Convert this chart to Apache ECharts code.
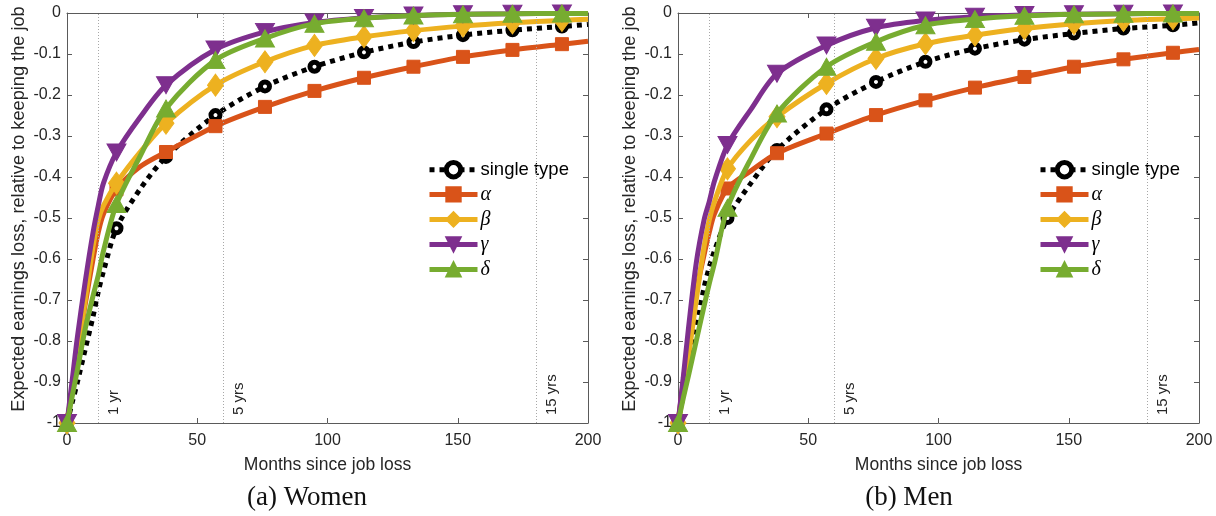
<!DOCTYPE html>
<html>
<head>
<meta charset="utf-8">
<script src="https://cdn.jsdelivr.net/npm/echarts@6/dist/echarts.min.js"></script>
<style>
  html, body { margin: 0; padding: 0; background: #fff; }
  #chart { width: 1216px; height: 516px; }
</style>
</head>
<body>
<div id="chart"></div>
<script>
// Months since job loss at which each curve is sampled
const MONTHS = [0, 2, 4, 7, 10, 12, 14, 19, 28, 38, 57, 76, 95, 114, 133, 152, 171, 190, 200];
// Months that carry a marker
const MARKER_MONTHS = [0, 19, 38, 57, 76, 95, 114, 133, 152, 171, 190];

// Women: expected earnings loss relative to keeping the job
const WOMEN_SINGLE = [-1, -0.95, -0.9, -0.82, -0.74, -0.68, -0.63, -0.525, -0.43, -0.351, -0.249, -0.179, -0.131, -0.096, -0.071, -0.054, -0.042, -0.033, -0.028];
const WOMEN_ALPHA  = [-1, -0.915, -0.83, -0.71, -0.6, -0.535, -0.49, -0.43, -0.375, -0.339, -0.276, -0.229, -0.19, -0.158, -0.131, -0.107, -0.09, -0.076, -0.069];
const WOMEN_BETA   = [-1, -0.925, -0.835, -0.7, -0.57, -0.505, -0.47, -0.415, -0.34, -0.269, -0.176, -0.119, -0.079, -0.058, -0.043, -0.032, -0.024, -0.018, -0.015];
const WOMEN_GAMMA  = [-1, -0.895, -0.79, -0.655, -0.535, -0.47, -0.415, -0.34, -0.255, -0.176, -0.089, -0.046, -0.023, -0.012, -0.006, -0.003, -0.002, -0.001, -0.001];
const WOMEN_DELTA  = [-1, -0.935, -0.87, -0.77, -0.69, -0.64, -0.58, -0.466, -0.35, -0.233, -0.115, -0.062, -0.026, -0.013, -0.006, -0.003, -0.002, -0.001, -0.001];

// Men
const MEN_SINGLE = [-1, -0.93, -0.865, -0.77, -0.67, -0.62, -0.58, -0.5, -0.415, -0.334, -0.235, -0.168, -0.119, -0.087, -0.065, -0.05, -0.038, -0.03, -0.024];
const MEN_ALPHA  = [-1, -0.9, -0.8, -0.68, -0.59, -0.535, -0.49, -0.428, -0.385, -0.342, -0.294, -0.249, -0.213, -0.182, -0.156, -0.131, -0.113, -0.097, -0.089];
const MEN_BETA   = [-1, -0.93, -0.84, -0.7, -0.57, -0.505, -0.46, -0.38, -0.31, -0.253, -0.172, -0.111, -0.075, -0.054, -0.038, -0.026, -0.018, -0.014, -0.012];
const MEN_GAMMA  = [-1, -0.89, -0.77, -0.61, -0.505, -0.46, -0.41, -0.322, -0.235, -0.148, -0.079, -0.036, -0.018, -0.009, -0.005, -0.003, -0.002, -0.001, -0.001];
const MEN_DELTA  = [-1, -0.94, -0.885, -0.8, -0.715, -0.66, -0.61, -0.475, -0.355, -0.245, -0.131, -0.07, -0.03, -0.015, -0.007, -0.003, -0.002, -0.001, -0.001];

const SERIES_NAMES = ['single type', 'α', 'β', 'γ', 'δ'];
const YEAR_MONTHS = [12, 60, 180];
const YEAR_LABELS = ['1 yr', '5 yrs', '15 yrs'];
const CAPTIONS = ['(a) Women', '(b) Men'];
const X_TITLE = 'Months since job loss';
const Y_TITLE = 'Expected earnings loss, relative to keeping the job';

const TEXT = '#262626';
const AXIS = '#5a5a5a';
const SANS = '"Liberation Sans", Arial, Helvetica, sans-serif';
const SERIF = '"Liberation Serif", "DejaVu Serif", serif';

const STYLES = [
  { color: '#000000', symbol: 'circle', size: 9, dash: [5, 5], width: 5, fill: '#ffffff', border: 5 },
  { color: '#D95319', symbol: 'rect', size: [13, 13], dash: 'solid', width: 5 },
  { color: '#EDB120', symbol: 'diamond', size: [16, 22], dash: 'solid', width: 5 },
  { color: '#7E2F8E', symbol: 'triangle', size: [19, 17], rotate: 180, dash: 'solid', width: 5 },
  { color: '#77AC30', symbol: 'triangle', size: [19, 17], dash: 'solid', width: 5 }
];

const PANELS = [
  { values: [WOMEN_SINGLE, WOMEN_ALPHA, WOMEN_BETA, WOMEN_GAMMA, WOMEN_DELTA], left: 67, legendLeft: 427, captionX: 307, yTitleX: 19 },
  { values: [MEN_SINGLE, MEN_ALPHA, MEN_BETA, MEN_GAMMA, MEN_DELTA], left: 678, legendLeft: 1038, captionX: 909, yTitleX: 630 }
];
const PLOT_W = 521, PLOT_TOP = 13, PLOT_H = 410;

function pointData(vals) {
  return MONTHS.map((m, i) => MARKER_MONTHS.indexOf(m) >= 0
    ? [m, vals[i]]
    : { value: [m, vals[i]], symbol: 'none' });
}

const grid = [], xAxis = [], yAxis = [], series = [], legend = [], graphic = [];

PANELS.forEach((p, g) => {
  grid.push({ left: p.left, top: PLOT_TOP, width: PLOT_W, height: PLOT_H });

  const tickCommon = { show: true, inside: true, length: 5, lineStyle: { color: AXIS, width: 1 } };
  const lineCommon = { show: true, onZero: false, lineStyle: { color: AXIS, width: 1 } };
  xAxis.push({
    type: 'value', gridIndex: g, min: 0, max: 200, interval: 50, position: 'bottom',
    name: X_TITLE, nameLocation: 'middle', nameGap: 33,
    nameTextStyle: { fontFamily: SANS, fontSize: 17.5, color: TEXT },
    axisLine: lineCommon, axisTick: tickCommon, splitLine: { show: false },
    axisLabel: { fontFamily: SANS, fontSize: 16, color: TEXT, margin: 10 }
  });
  xAxis.push({
    type: 'value', gridIndex: g, min: 0, max: 200, interval: 50, position: 'top',
    axisLine: lineCommon, axisTick: tickCommon, splitLine: { show: false }, axisLabel: { show: false }
  });
  yAxis.push({
    type: 'value', gridIndex: g, min: -1, max: 0, interval: 0.1, position: 'left',
    axisLine: lineCommon, axisTick: tickCommon, splitLine: { show: false },
    axisLabel: { fontFamily: SANS, fontSize: 16, color: TEXT, margin: 6 }
  });
  yAxis.push({
    type: 'value', gridIndex: g, min: -1, max: 0, interval: 0.1, position: 'right',
    axisLine: lineCommon, axisTick: tickCommon, splitLine: { show: false }, axisLabel: { show: false }
  });

  // reference lines at 1, 5 and 15 years
  series.push({
    type: 'line', xAxisIndex: 2 * g, yAxisIndex: 2 * g, data: [], silent: true, z: 1,
    markLine: {
      silent: true, symbol: 'none', animation: false,
      lineStyle: { color: '#a8a8a8', width: 1, type: [1, 2] },
      label: {
        show: true, position: 'insideStartBottom', distance: [8, 8],
        fontFamily: SANS, fontSize: 15, color: TEXT
      },
      data: YEAR_MONTHS.map((m, i) => [
        { coord: [m, -1], label: { formatter: YEAR_LABELS[i] } },
        { coord: [m, 0] }
      ])
    }
  });

  p.values.forEach((vals, k) => {
    const s = STYLES[k];
    series.push({
      name: SERIES_NAMES[k], type: 'line',
      xAxisIndex: 2 * g, yAxisIndex: 2 * g,
      data: pointData(vals),
      smooth: 0.3,
      clip: false, z: 2 + k,
      symbol: s.symbol, symbolSize: s.size, symbolRotate: s.rotate || 0,
      showSymbol: true, showAllSymbol: true,
      lineStyle: { color: s.color, width: s.width, type: s.dash, cap: 'butt' },
      itemStyle: s.fill
        ? { color: s.fill, borderColor: s.color, borderWidth: s.border }
        : { color: s.color, borderColor: s.color, borderWidth: 1 },
      emphasis: { disabled: true }
    });
  });

  legend.push({
    orient: 'vertical', left: p.legendLeft, top: 160, padding: 0,
    itemWidth: 48, itemHeight: 18, itemGap: 5,
    selectedMode: false,
    lineStyle: { width: 5 },
    data: SERIES_NAMES.map((n, k) => k === 0
      ? { name: n, itemStyle: { borderWidth: 5, color: '#fff', borderColor: '#000' } }
      : { name: n }),
    formatter: n => n === SERIES_NAMES[0] ? '{s|' + n + '}' : '{g|' + n + '}',
    textStyle: {
      color: '#000', padding: [0, 0, 0, -2],
      rich: {
        s: { fontFamily: SANS, fontSize: 18.5, color: '#000' },
        g: { fontFamily: SERIF, fontStyle: 'italic', fontSize: 20, color: '#000' }
      }
    }
  });

  graphic.push({
    type: 'text', x: p.yTitleX, y: 209, rotation: Math.PI / 2,
    style: { text: Y_TITLE, font: '18.2px ' + SANS, fill: TEXT, textAlign: 'center', textVerticalAlign: 'middle' }
  });
  graphic.push({
    type: 'text', x: p.captionX, y: 484,
    style: { text: CAPTIONS[g], font: '27px ' + SERIF, fill: '#111', textAlign: 'center' }
  });
});

const chart = echarts.init(document.getElementById('chart'), null, { renderer: 'canvas' });
chart.setOption({
  animation: false,
  backgroundColor: '#ffffff',
  grid, xAxis, yAxis, series, legend, graphic
});
</script>
</body>
</html>
